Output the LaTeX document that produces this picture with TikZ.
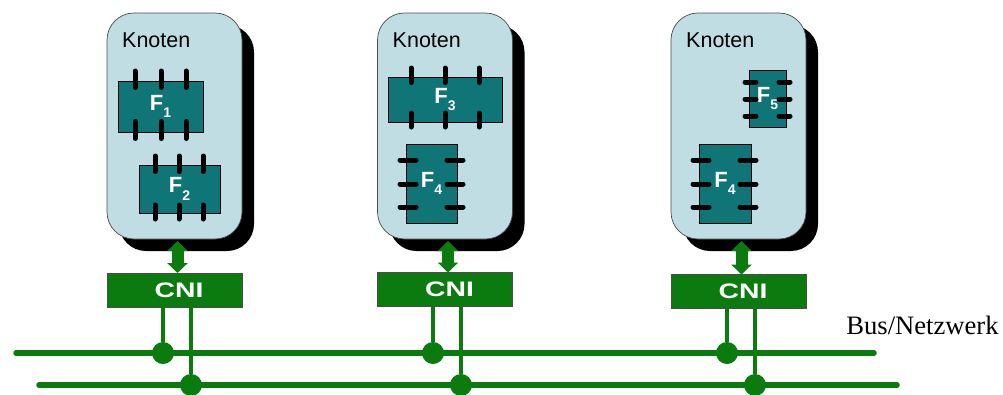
\documentclass[tikz,border=0pt]{standalone}
\usepackage{fontspec}
\usetikzlibrary{arrows.meta}
\setmainfont{Liberation Sans}
\newfontfamily\busfont{Liberation Serif}
\definecolor{nodeblue}{HTML}{BFDDE3}
\definecolor{functeal}{HTML}{0F7577}
\definecolor{cnigreen}{HTML}{0B7A0F}
\newcommand{\fname}[1]{\fontsize{22}{22}\selectfont\bfseries F\raisebox{-7.5pt}{\fontsize{14}{14}\selectfont #1}}
\tikzset{
    knotenbody/.style={draw=black!70,line width=0.7pt,fill=nodeblue,rounded corners=27pt,minimum width=135pt,minimum height=226pt,inner sep=0pt},
    knotenshadow/.style={fill=black,rounded corners=27pt,minimum width=135pt,minimum height=226pt,inner sep=0pt},
    knotenlabel/.style={anchor=west,inner sep=0pt,font=\fontsize{21.5}{21.5}\selectfont},
    func/.style={draw=black,line width=0.8pt,fill=functeal,text=white,inner sep=0pt},
    pinline/.style={line width=5pt,line cap=round},
    cnibox/.style={draw=black!70,line width=0.6pt,fill=cnigreen,text=white,minimum width=135pt,minimum height=34pt,inner sep=0pt,font=\fontsize{21}{21}\selectfont\bfseries},
    cnilink/.style={cnigreen,line width=12pt,{Triangle[width=20pt,length=10pt]}-{Triangle[width=20pt,length=10pt]},shorten <=2pt},
    busline/.style={cnigreen,line width=5.5pt,line cap=round},
    stubline/.style={cnigreen,line width=4.5pt},
    busdot/.style={circle,fill=cnigreen,minimum size=22pt,inner sep=0pt}
}
\begin{document}
\begin{tikzpicture}[x=1pt,y=-1pt]
    \useasboundingbox (0,0) rectangle (1003,394);

    % bus lines
    \coordinate (busAw) at (16,353);
    \coordinate (busAe) at (874,353);
    \coordinate (busBw) at (39,385);
    \coordinate (busBe) at (897,385);
    \draw[busline] (busAw) -- (busAe);
    \draw[busline] (busBw) -- (busBe);
    \node[inner sep=0pt,font=\busfont\fontsize{26.6}{26.6}\selectfont] (bus) at (922.5,325) {Bus/Netzwerk};

    % the three nodes with CNI and bus taps
    \foreach \n/\xc/\ycni/\xa/\xb in {1/174.5/290/163/191, 2/445/289.5/433/461, 3/738.5/291.5/727/755} {
        \node[knotenshadow] (s\n) at (\xc+12,138) {};
        \node[knotenbody] (k\n) at (\xc,126) {};
        \node[knotenlabel] (t\n) at (\xc-52.5,40) {Knoten};
        \node[cnibox] (c\n) at (\xc,\ycni) {\hspace*{9pt}\scalebox{1.35}[1]{CNI}};
        \node[busdot] (da\n) at (\xa,353) {};
        \node[busdot] (db\n) at (\xb,385) {};
        \draw[stubline] (da\n) -- (da\n |- c\n.south);
        \draw[stubline] (db\n) -- (db\n |- c\n.south);
        \draw[cnilink] (\xc+3,239) -- (\xc+3,\ycni-17);
    }

    % functions in node 1
    \node[func,minimum width=85pt,minimum height=51pt] (f1) at (160.5,106.5) {\fname{1}};
    \foreach \x in {135,161,186} {
        \draw[pinline] (\x,71) -- (\x,87.5);
        \draw[pinline] (\x,121.5) -- (\x,138.5);
    }
    \node[func,minimum width=81pt,minimum height=48pt] (f2) at (179.5,189) {\fname{2}};
    \foreach \x in {155,179,203} {
        \draw[pinline] (\x,156) -- (\x,171.5);
        \draw[pinline] (\x,205) -- (\x,219);
    }

    % functions in node 2
    \node[func,minimum width=114pt,minimum height=45pt] (f3) at (445,99.5) {\fname{3}};
    \foreach \x in {411,445,479} {
        \draw[pinline] (\x,68) -- (\x,82.5);
        \draw[pinline] (\x,113) -- (\x,127);
    }
    \node[func,minimum width=51pt,minimum height=79pt] (f4) at (431.5,183.5) {\fname{4}};
    \foreach \y in {160,184,207} {
        \draw[pinline] (400,\y) -- (416,\y);
        \draw[pinline] (447,\y) -- (463,\y);
    }

    % functions in node 3
    \node[func,minimum width=37pt,minimum height=57pt] (f5) at (767.5,98.5) {\fname{5}};
    \foreach \y in {82,99,116} {
        \draw[pinline] (745,\y) -- (756,\y);
        \draw[pinline] (779,\y) -- (790,\y);
    }
    \node[func,minimum width=52pt,minimum height=79pt] (f6) at (725,183.5) {\fname{4}};
    \foreach \y in {160,184,207} {
        \draw[pinline] (693,\y) -- (709,\y);
        \draw[pinline] (740,\y) -- (756,\y);
    }
\end{tikzpicture}
\end{document}
